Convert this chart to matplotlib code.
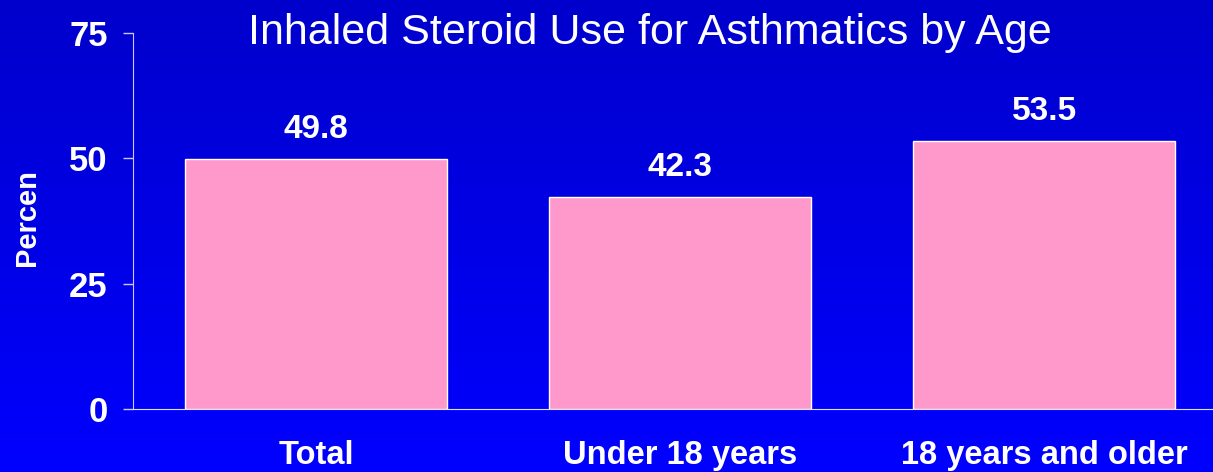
import matplotlib
matplotlib.use('Agg')
import matplotlib.pyplot as plt
import numpy as np

categories = ['Total', 'Under 18 years', '18 years and older']
values = [49.8, 42.3, 53.5]
y_ticks = [0, 25, 50, 75]

plt.rcParams['font.family'] = ['Liberation Sans', 'DejaVu Sans']

fig = plt.figure(figsize=(12.13, 4.72), dpi=100)

# background gradient, darker blue at top
bg = fig.add_axes([0, 0, 1, 1], zorder=0)
grad = np.linspace(0, 1, 256).reshape(-1, 1)
cmap = matplotlib.colors.LinearSegmentedColormap.from_list('bg', ['#0000CC', '#0000FF'])
bg.imshow(grad, aspect='auto', cmap=cmap, extent=[0, 1, 0, 1], origin='upper')
bg.axis('off')

ax = fig.add_axes([0.1096, 0.1335, 0.8904, 0.7965], zorder=1)
ax.patch.set_alpha(0)
x = np.arange(len(categories))
bars = ax.bar(x, values, width=0.72, color='#FF99CC', edgecolor='white', linewidth=1)

for xi, v in zip(x, values):
    ax.text(xi, v + 2.8, f'{v}', ha='center', va='bottom', color='white',
            fontsize=24, fontweight='bold')

ax.set_xlim(-0.503, 2.464)
ax.set_ylim(0, 75)
ax.set_yticks(y_ticks)
ax.set_xticks(x)
ax.set_xticklabels(categories)
ax.tick_params(axis='y', colors='#C8C8FF', length=7.2, width=1, labelcolor='white', labelsize=25, pad=11)
ax.tick_params(axis='x', length=0, labelcolor='white', labelsize=23.5, pad=22)
for lab in ax.get_xticklabels() + ax.get_yticklabels():
    lab.set_fontweight('bold')

for s in ['top', 'right']:
    ax.spines[s].set_visible(False)
ax.spines['left'].set_color('#C8C8FF')
ax.spines['bottom'].set_color('#E0E0FF')

ax.set_ylabel('Percen', color='white', fontsize=21, fontweight='bold')
ax.yaxis.set_label_coords(-0.0855, 0.5 + (409 - 218 - 188) / 376)
fig.text(0.536, 0.93, 'Inhaled Steroid Use for Asthmatics by Age', ha='center', va='center',
         color='white', fontsize=31)

fig.savefig('out.png', dpi=100)
